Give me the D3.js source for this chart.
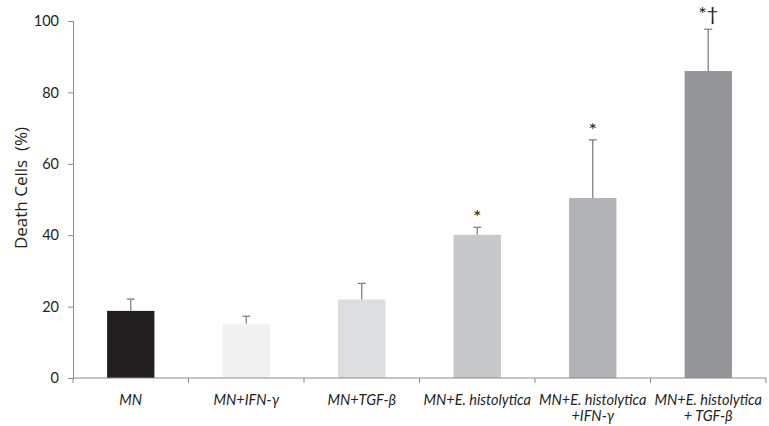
<!DOCTYPE html>
<html>
<head>
<meta charset="utf-8">
<script src="https://cdn.jsdelivr.net/npm/d3@7"></script>
<style>
  body { margin: 0; background: #fff; }
  svg text { font-family: Lato, "Open Sans", sans-serif; fill: #231f20; }
</style>
</head>
<body>
<div id="chart"></div>
<script>
// data
const groups = ["MN", "MN+IFN-γ", "MN+TGF-β", "MN+E. histolytica", "MN+E. histolytica|+IFN-γ", "MN+E. histolytica|+ TGF-β"];
const deathCells = [18.8, 15.2, 22.0, 40.1, 50.4, 86.0];
const errorUp = [3.3, 2.1, 4.5, 2.1, 16.3, 11.7];
const marks = ["", "", "", "*", "*", "*†"];
const barColors = ["#231f20", "#f1f1f2", "#dcdddf", "#c7c8ca", "#b1b2b5", "#939598"];
const yTicks = [0, 20, 40, 60, 80, 100];

const margin = {top: 21, right: 3, bottom: 48, left: 73};
const width = 769 - margin.left - margin.right;
const height = 426 - margin.top - margin.bottom;

const svg = d3.select("#chart")
    .append("svg")
    .attr("width", 769)
    .attr("height", 426);

const g = svg.append("g")
    .attr("transform", "translate(" + margin.left + "," + margin.top + ")");

const xScale = d3.scaleBand()
    .domain(groups)
    .range([0, width])
    .paddingInner(0.59)
    .paddingOuter(0.295);

const yScale = d3.scaleLinear()
    .domain([0, 100])
    .range([height, 0]);

// bars
g.selectAll("rect.bar")
    .data(groups)
    .enter()
    .append("rect")
        .attr("class", "bar")
        .attr("x", d => xScale(d))
        .attr("y", (d, i) => yScale(deathCells[i]))
        .attr("width", xScale.bandwidth())
        .attr("height", (d, i) => height - yScale(deathCells[i]))
        .style("fill", (d, i) => barColors[i]);

// error bars, upper half only
const errG = g.append("g").attr("stroke", "#808285").attr("stroke-width", 1.3);
groups.forEach((d, i) => {
    const cx = xScale(d) + xScale.bandwidth() / 2;
    const top = yScale(deathCells[i] + errorUp[i]);
    errG.append("line")
        .attr("x1", cx).attr("x2", cx)
        .attr("y1", yScale(deathCells[i])).attr("y2", top);
    errG.append("line")
        .attr("x1", cx - 4).attr("x2", cx + 4)
        .attr("y1", top).attr("y2", top);
    if (marks[i]) {
        // the dagger hangs lower, so lift that label a bit more
        g.append("text")
            .attr("x", cx)
            .attr("y", top - (marks[i].length > 1 ? 8 : 3))
            .attr("text-anchor", "middle")
            .style("font-size", "20px")
            .text(marks[i]);
    }
});

// y axis
const yAxis = g.append("g")
    .call(d3.axisLeft(yScale).tickValues(yTicks).tickSize(5).tickPadding(9));
yAxis.selectAll("text").style("font-size", "14.5px");

// x axis with ticks at category boundaries
const xAxis = g.append("g").attr("transform", "translate(0," + height + ")");
xAxis.append("line")
    .attr("x1", 0).attr("x2", width)
    .attr("stroke", "#8a8a8a");
const step = xScale.step();
d3.range(groups.length + 1).forEach(k => {
    const bx = xScale(groups[0]) - xScale.paddingOuter() * step + k * step;
    xAxis.append("line")
        .attr("x1", bx).attr("x2", bx)
        .attr("y1", 0).attr("y2", 5)
        .attr("stroke", "#8a8a8a");
});
groups.forEach(d => {
    const lines = d.split("|");
    const t = xAxis.append("text")
        .attr("x", xScale(d) + xScale.bandwidth() / 2)
        .attr("y", 27)
        .attr("text-anchor", "middle")
        .style("font-size", "14.5px")
        .style("font-style", "italic");
    lines.forEach((ln, j) => {
        t.append("tspan")
            .attr("x", xScale(d) + xScale.bandwidth() / 2)
            .attr("dy", j === 0 ? 0 : 16)
            .text(ln);
    });
});

yAxis.select(".domain").attr("stroke", "#8a8a8a");
yAxis.selectAll(".tick line").attr("stroke", "#8a8a8a");

// y axis title
svg.append("text")
    .attr("transform", "translate(27,188) rotate(-90)")
    .attr("text-anchor", "middle")
    .style("font-family", "'Open Sans', sans-serif")
    .style("font-size", "17px")
    .style("white-space", "pre")
    .text("Death Cells  (%)");
</script>
</body>
</html>
